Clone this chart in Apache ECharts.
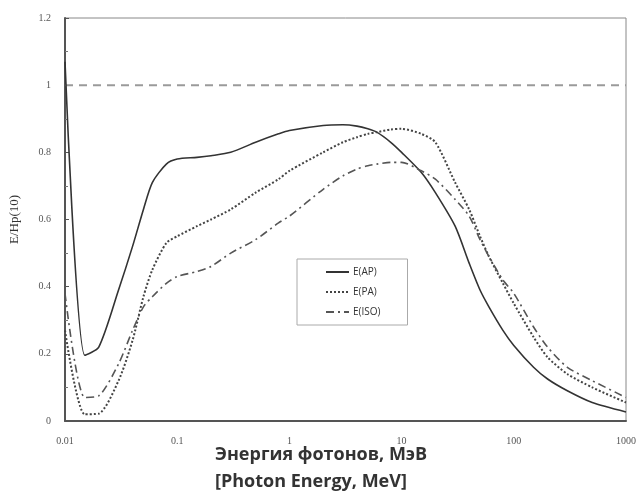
<!DOCTYPE html>
<html>
<head>
<meta charset="utf-8">
<script src="https://cdn.jsdelivr.net/npm/echarts@6/dist/echarts.min.js"></script>
<style>html,body{margin:0;padding:0;background:#fff}#c{width:640px;height:493px}</style>
</head>
<body>
<div id="c"></div>
<script>
const energies = [0.01,0.015,0.02,0.03,0.04,0.05,0.06,0.08,0.1,0.15,0.2,0.3,0.5,0.8,1,2,3,4,5,6,8,10,15,20,30,40,50,60,80,100,150,200,300,500,1000];
const apValues = [1.07,0.196,0.22,0.39,0.52,0.63,0.71,0.765,0.78,0.785,0.79,0.80,0.83,0.855,0.865,0.88,0.882,0.878,0.87,0.86,0.83,0.80,0.74,0.68,0.58,0.47,0.39,0.34,0.27,0.225,0.16,0.125,0.09,0.055,0.027];
const paValues = [0.27,0.02,0.022,0.12,0.24,0.37,0.45,0.53,0.55,0.58,0.60,0.63,0.68,0.72,0.745,0.80,0.83,0.845,0.855,0.86,0.868,0.87,0.855,0.83,0.71,0.63,0.55,0.49,0.41,0.35,0.25,0.19,0.14,0.10,0.055];
const isoValues = [0.38,0.07,0.075,0.17,0.27,0.34,0.37,0.41,0.43,0.445,0.46,0.50,0.54,0.59,0.61,0.69,0.73,0.75,0.76,0.765,0.77,0.77,0.745,0.72,0.66,0.61,0.54,0.49,0.42,0.38,0.28,0.22,0.16,0.12,0.07];
const refEnergies = [0.01,1000];
const refValues = [1,1];
const xTickLabels = ['0.01','0.1','1','10','100','1000'];
const seriesNames = ['E(AP)','E(PA)','E(ISO)'];

const pairs = (xs, ys) => xs.map((x,i)=>[x, ys[i]]);
const chart = echarts.init(document.getElementById('c'));
const tickFont = 'Liberation Serif';
chart.setOption({
  animation:false,
  backgroundColor:'#fff',
  grid:{left:63,right:14,top:18,bottom:72,show:true,borderColor:'#888',borderWidth:1},
  legend:{
    show:true, orient:'vertical', left:297, top:259,
    data:seriesNames, itemWidth:23, itemHeight:10, itemGap:10,
    borderColor:'#aaa', borderWidth:1, padding:[8,27,8,28],
    itemStyle:{opacity:0},
    textStyle:{fontFamily:'Open Sans',fontSize:10,color:'#333',padding:[0,0,0,-1]}
  },
  xAxis:{
    type:'log', logBase:10, min:0.01, max:1000,
    axisLine:{lineStyle:{color:'#555',width:2}},
    axisTick:{show:false},
    splitLine:{show:false},
    axisLabel:{margin:15,fontFamily:tickFont,fontSize:10,color:'#555',
      formatter:v=>{const k=Math.round(Math.log10(v))+2;return xTickLabels[k]!==undefined?xTickLabels[k]:'';}}
  },
  yAxis:{
    type:'value', min:0, max:1.2, interval:0.2,
    name:'E/Hp(10)', nameLocation:'middle', nameGap:44,
    nameTextStyle:{fontFamily:'Liberation Serif',fontSize:13,color:'#333'},
    axisLine:{show:true,lineStyle:{color:'#555',width:2}},
    axisTick:{show:true,inside:true,length:4,lineStyle:{color:'#555'}},
    minorTick:{show:true,splitNumber:2,length:3,lineStyle:{color:'#777'}},
    splitLine:{show:false},
    axisLabel:{margin:14,fontFamily:tickFont,fontSize:10,color:'#555'}
  },
  graphic:[
    {type:'text',left:215,top:441,style:{text:'Энергия фотонов, МэВ\n[Photon Energy, MeV]',fontFamily:'Open Sans',fontWeight:'bold',fontSize:18,lineHeight:27,fill:'#333',align:'left'}}
  ],
  series:[
    {name:'ref',type:'line',data:pairs(refEnergies,refValues),showSymbol:false,symbol:'none',silent:true,
      lineStyle:{color:'#9a9a9a',width:2,type:[8,6]},z:1},
    {name:'E(AP)',type:'line',data:pairs(energies,apValues),symbol:'none',smooth:0.25,
      lineStyle:{color:'#333',width:1.6,type:'solid'},itemStyle:{color:'#333'}},
    {name:'E(PA)',type:'line',data:pairs(energies,paValues),symbol:'none',smooth:0.25,
      lineStyle:{color:'#444',width:2,type:[2,2]},itemStyle:{color:'#444'}},
    {name:'E(ISO)',type:'line',data:pairs(energies,isoValues),symbol:'none',smooth:0.25,
      lineStyle:{color:'#555',width:1.6,type:[8,4,2,4]},itemStyle:{color:'#555'}}
  ]
});
</script>
</body>
</html>
